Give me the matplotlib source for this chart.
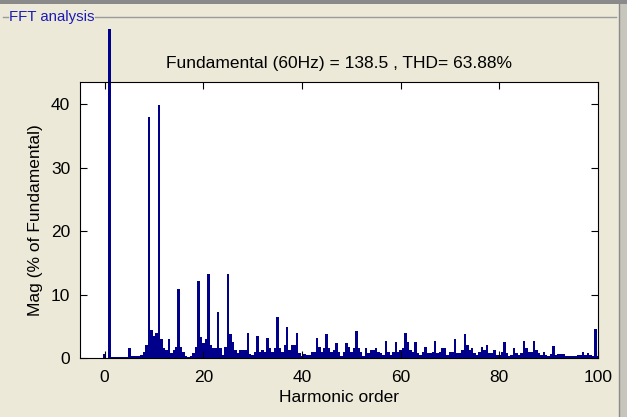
import matplotlib
matplotlib.use("Agg")
import matplotlib.pyplot as plt
from matplotlib.patches import Rectangle
from matplotlib.lines import Line2D
import numpy as np

# harmonic orders (0.5 resolution) and magnitudes in % of fundamental
orders = np.arange(0, 100.5, 0.5)
mags = [
    0.6, 0.0, 100, 0.1, 0.1, 0.1, 0.1, 0.1, 0.1, 0.1,      # 0 - 4.5
    1.5, 0.3, 0.3, 0.3, 0.3, 0.5, 1.0, 2.0, 38.0, 4.4,     # 5 - 9.5
    3.5, 4.0, 39.8, 3.0, 1.6, 1.2, 3.0, 0.8, 1.2, 1.8,     # 10 - 14.5
    10.8, 1.8, 0.9, 0.3, 0.2, 0.3, 0.8, 1.8, 12.2, 3.3,    # 15 - 19.5
    2.3, 3.0, 13.3, 2.0, 1.5, 1.5, 7.3, 1.5, 0.5, 1.8,     # 20 - 24.5
    13.3, 3.8, 2.5, 1.3, 0.8, 1.2, 1.2, 1.2, 4.0, 0.6,     # 25 - 29.5
    0.4, 1.0, 3.4, 1.0, 1.2, 1.0, 3.2, 1.5, 1.0, 1.5,      # 30 - 34.5
    6.5, 1.5, 1.0, 2.0, 4.9, 1.2, 2.1, 2.0, 4.0, 0.8,      # 35 - 39.5
    0.3, 0.6, 0.5, 0.5, 1.0, 1.0, 3.2, 1.8, 1.0, 1.5,      # 40 - 44.5
    3.8, 1.5, 1.0, 1.2, 2.3, 1.0, 0.3, 1.0, 2.3, 1.8,      # 45 - 49.5
    1.0, 1.5, 4.3, 1.5, 1.0, 0.3, 1.6, 0.8, 1.2, 1.3,      # 50 - 54.5
    1.5, 1.0, 0.8, 0.4, 2.7, 1.0, 0.5, 1.0, 2.6, 1.0,      # 55 - 59.5
    1.3, 1.5, 4.0, 2.5, 1.3, 1.0, 2.6, 0.8, 0.5, 1.0,      # 60 - 64.5
    1.8, 0.8, 0.8, 1.0, 2.7, 0.8, 1.0, 1.5, 1.5, 0.5,      # 65 - 69.5
    1.0, 1.0, 3.0, 0.8, 0.8, 1.2, 3.8, 2.0, 1.3, 1.5,      # 70 - 74.5
    0.8, 0.5, 1.0, 1.8, 1.2, 2.1, 0.8, 0.8, 1.2, 0.5,      # 75 - 79.5
    0.5, 1.0, 2.5, 0.8, 0.3, 0.5, 1.5, 0.8, 0.5, 0.8,      # 80 - 84.5
    2.7, 1.5, 1.0, 1.0, 2.7, 1.2, 0.8, 0.5, 0.9, 0.5,      # 85 - 89.5
    0.3, 0.6, 1.9, 0.4, 0.6, 0.6, 0.6, 0.3, 0.3, 0.3,      # 90 - 94.5
    0.3, 0.3, 0.5, 0.5, 0.9, 0.5, 0.8, 0.5, 0.3, 4.5,      # 95 - 99.5
    0.3,                                                    # 100
]

title_txt = "Fundamental (60Hz) = 138.5 , THD= 63.88%"
xticks = [0, 20, 40, 60, 80, 100]
yticks = [0, 10, 20, 30, 40]

panel = "#ECE9D8"
barcol = "#00008B"

plt.rcParams["font.family"] = ["Liberation Sans", "DejaVu Sans"]
plt.rcParams["font.size"] = 12.5

W, H = 627, 417
fig = plt.figure(figsize=(W / 100, H / 100), dpi=100, facecolor=panel)

# window frame bits: grey strip on top and right
fig.patches.append(Rectangle((0, 1 - 4 / H), 1, 4 / H, transform=fig.transFigure,
                             facecolor="#8A8A8A", edgecolor="none"))
fig.patches.append(Rectangle((619 / W, 0), 8 / W, 1 - 4 / H, transform=fig.transFigure,
                             facecolor="#C8C6BC", edgecolor="none"))
fig.lines.append(Line2D([619 / W, 619 / W], [0, 1 - 4 / H], transform=fig.transFigure,
                        color="#8A8A8A", lw=1))

# group box "FFT analysis"
gy = 1 - 17 / H
fig.lines.append(Line2D([3 / W, 8 / W], [gy, gy], transform=fig.transFigure, color="#9A9A9A", lw=1))
fig.lines.append(Line2D([95 / W, 616 / W], [gy, gy], transform=fig.transFigure, color="#9A9A9A", lw=1))
fig.text(9 / W, gy, "FFT analysis", color="#1C1CB4", fontsize=10.8, va="center", ha="left")

ax = fig.add_axes([80 / W, 59 / H, 518 / W, 276 / H])
ax.set_facecolor("white")

bars = ax.bar(orders, mags, width=0.5, color=barcol, edgecolor="none", linewidth=0)
# the fundamental runs off the top of the axes, up to the group box line
clip = Rectangle((0, 0), 1, 1 - 29 / H, transform=fig.transFigure, facecolor="none")
for b in bars:
    b.set_clip_path(clip)

ax.set_xlim(-5, 100)
ax.set_ylim(0, 43.5)
ax.set_xticks(xticks)
ax.set_yticks(yticks)
ax.tick_params(direction="in", length=5, top=True, right=True, width=0.8)
ax.tick_params(axis="x", pad=9)
ax.tick_params(axis="y", pad=7)
for s in ax.spines.values():
    s.set_linewidth(0.8)

ax.set_title(title_txt, fontsize=12.5, pad=10)
ax.set_xlabel("Harmonic order", labelpad=3)
ax.set_ylabel("Mag (% of Fundamental)", labelpad=6)

fig.savefig("out.png", dpi=100, facecolor=panel)
